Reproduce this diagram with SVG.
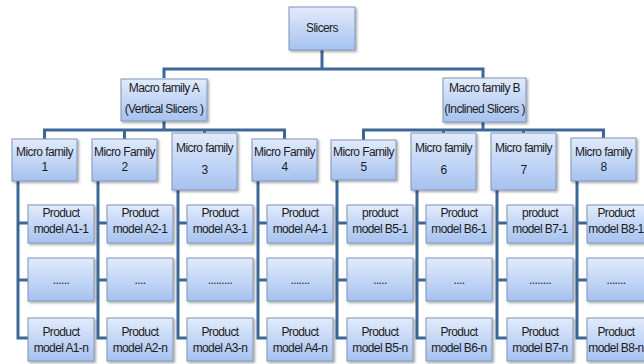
<svg xmlns="http://www.w3.org/2000/svg" width="644" height="364" viewBox="0 0 644 364">
<defs>
<linearGradient id="g" x1="0" y1="0" x2="0" y2="1">
<stop offset="0" stop-color="#e2ebfc"/>
<stop offset="1" stop-color="#a6c2f0"/>
</linearGradient>
<filter id="sh" x="-10%" y="-10%" width="130%" height="140%">
<feDropShadow dx="1.5" dy="1.5" stdDeviation="1" flood-color="#000" flood-opacity="0.35"/>
</filter>
</defs>
<style>
.b{fill:url(#g);stroke:#8096b6;stroke-width:1;filter:url(#sh)}
.t{font-family:"Liberation Sans",Arial,sans-serif;font-size:12px;letter-spacing:-0.6px;fill:#1c1c1c;text-anchor:middle}
.c{fill:none;stroke:#3c6797;stroke-width:3;stroke-linejoin:miter}
</style>
<rect width="644" height="364" fill="#fff"/>
<g id="connectors">
<path class="c" d="M322 50V69M164 78V69H483V78"/>
<path class="c" d="M164 121V130M44.5 139V130H284.5V139M124.5 130V139M204.5 130V133"/>
<path class="c" d="M483 122V130M363.5 140V130H603.5V138M443.5 130V133M523.5 130V133"/>
<path class="c" d="M18 181V338H28M18 223H28M18 280H28"/>
<path class="c" d="M98 181V338H107M98 223H107M98 280H107"/>
<path class="c" d="M178 190V338H187M178 223H187M178 280H187"/>
<path class="c" d="M258 181V338H267M258 223H267M258 280H267"/>
<path class="c" d="M337 180V338H347M337 223H347M337 280H347"/>
<path class="c" d="M417 190V338H426M417 223H426M417 280H426"/>
<path class="c" d="M497 190V338H507M497 223H507M497 280H507"/>
<path class="c" d="M577 181V338H587M577 223H587M577 280H587"/>
</g>
<g id="slicers"><rect class="b" x="289" y="7" width="66" height="43"/><text class="t" x="322" y="32">Slicers</text></g>
<g id="macroA"><rect class="b" x="121" y="79" width="86" height="42"/><text class="t" x="164" y="92">Macro family A</text><text class="t" x="164" y="113">(Vertical Slicers )</text></g>
<g id="macroB"><rect class="b" x="443" y="78" width="83" height="44"/><text class="t" x="484.5" y="92">Macro family B</text><text class="t" x="484.5" y="113">(Inclined Slicers )</text></g>
<g id="micro1"><rect class="b" x="12" y="139" width="65" height="42"/><text class="t" x="44.5" y="156">Micro family</text><text class="t" x="44.5" y="171">1</text></g>
<g id="micro2"><rect class="b" x="92" y="139" width="65" height="42"/><text class="t" x="124.5" y="156">Micro Family</text><text class="t" x="124.5" y="171">2</text></g>
<g id="micro3"><rect class="b" x="172" y="133" width="65" height="57"/><text class="t" x="204.5" y="152">Micro family</text><text class="t" x="204.5" y="174">3</text></g>
<g id="micro4"><rect class="b" x="252" y="139" width="65" height="42"/><text class="t" x="284.5" y="156">Micro Family</text><text class="t" x="284.5" y="171">4</text></g>
<g id="micro5"><rect class="b" x="331" y="140" width="65" height="40"/><text class="t" x="363.5" y="156">Micro Family</text><text class="t" x="363.5" y="171">5</text></g>
<g id="micro6"><rect class="b" x="411" y="133" width="65" height="57"/><text class="t" x="443.5" y="152">Micro family</text><text class="t" x="443.5" y="174">6</text></g>
<g id="micro7"><rect class="b" x="491" y="133" width="65" height="57"/><text class="t" x="523.5" y="152">Micro family</text><text class="t" x="523.5" y="174">7</text></g>
<g id="micro8"><rect class="b" x="571" y="138" width="65" height="43"/><text class="t" x="603.5" y="156">Micro family</text><text class="t" x="603.5" y="171">8</text></g>

<g id="pA1-1"><rect class="b" x="28" y="205" width="66" height="38"/><text class="t" x="61" y="217">Product</text><text class="t" x="61" y="233">model A1-1</text></g>
<g id="pA2-1"><rect class="b" x="107" y="205" width="66" height="38"/><text class="t" x="140" y="217">Product</text><text class="t" x="140" y="233">model A2-1</text></g>
<g id="pA3-1"><rect class="b" x="187" y="205" width="66" height="38"/><text class="t" x="220" y="217">Product</text><text class="t" x="220" y="233">model A3-1</text></g>
<g id="pA4-1"><rect class="b" x="267" y="205" width="66" height="38"/><text class="t" x="300" y="217">Product</text><text class="t" x="300" y="233">model A4-1</text></g>
<g id="pB5-1"><rect class="b" x="347" y="205" width="66" height="38"/><text class="t" x="380" y="217">product</text><text class="t" x="380" y="233">model B5-1</text></g>
<g id="pB6-1"><rect class="b" x="426" y="205" width="66" height="38"/><text class="t" x="459" y="217">Product</text><text class="t" x="459" y="233">model B6-1</text></g>
<g id="pB7-1"><rect class="b" x="507" y="205" width="66" height="38"/><text class="t" x="540" y="217">product</text><text class="t" x="540" y="233">model B7-1</text></g>
<g id="pB8-1"><rect class="b" x="587" y="205" width="66" height="38"/><text class="t" x="616" y="217">Product</text><text class="t" x="616" y="233">model B8-1</text></g>

<g id="dA1"><rect class="b" x="28" y="258" width="66" height="43"/><text class="t" x="61" y="284">......</text></g>
<g id="dA2"><rect class="b" x="107" y="258" width="66" height="43"/><text class="t" x="140" y="284">....</text></g>
<g id="dA3"><rect class="b" x="187" y="258" width="66" height="43"/><text class="t" x="220" y="284">.........</text></g>
<g id="dA4"><rect class="b" x="267" y="258" width="66" height="43"/><text class="t" x="300" y="284">.......</text></g>
<g id="dB5"><rect class="b" x="347" y="258" width="66" height="43"/><text class="t" x="380" y="284">.....</text></g>
<g id="dB6"><rect class="b" x="426" y="258" width="66" height="43"/><text class="t" x="459" y="284">....</text></g>
<g id="dB7"><rect class="b" x="507" y="258" width="66" height="43"/><text class="t" x="540" y="284">........</text></g>
<g id="dB8"><rect class="b" x="587" y="258" width="66" height="43"/><text class="t" x="616" y="284">.......</text></g>

<g id="pA1-n"><rect class="b" x="28" y="318" width="66" height="43"/><text class="t" x="61" y="336">Product</text><text class="t" x="61" y="352">model A1-n</text></g>
<g id="pA2-n"><rect class="b" x="107" y="318" width="66" height="43"/><text class="t" x="140" y="336">Product</text><text class="t" x="140" y="352">model A2-n</text></g>
<g id="pA3-n"><rect class="b" x="187" y="318" width="66" height="43"/><text class="t" x="220" y="336">Product</text><text class="t" x="220" y="352">model A3-n</text></g>
<g id="pA4-n"><rect class="b" x="267" y="318" width="66" height="43"/><text class="t" x="300" y="336">Product</text><text class="t" x="300" y="352">model A4-n</text></g>
<g id="pB5-n"><rect class="b" x="347" y="318" width="66" height="43"/><text class="t" x="380" y="336">Product</text><text class="t" x="380" y="352">model B5-n</text></g>
<g id="pB6-n"><rect class="b" x="426" y="318" width="66" height="43"/><text class="t" x="459" y="336">Product</text><text class="t" x="459" y="352">model B6-n</text></g>
<g id="pB7-n"><rect class="b" x="507" y="318" width="66" height="43"/><text class="t" x="540" y="336">Product</text><text class="t" x="540" y="352">model B7-n</text></g>
<g id="pB8-n"><rect class="b" x="587" y="318" width="66" height="43"/><text class="t" x="616" y="336">Product</text><text class="t" x="616" y="352">model B8-n</text></g>
</svg>
